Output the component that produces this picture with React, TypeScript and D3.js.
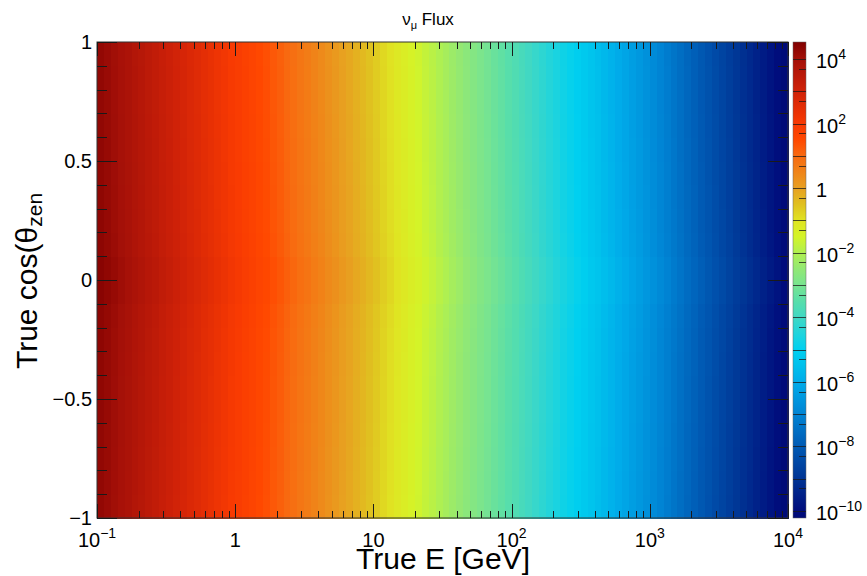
import React from "react";
import * as d3 from "d3";

// ---------- data ----------
const energyRange = [0.1, 1e4]; // GeV
const cosRange = [-1, 1];

// log10 of flux per energy bin (100 equal log-width bins from 0.1 to 1e4 GeV)
const spectrumLog10 = [
  4.40, 4.30, 4.19, 4.07, 3.96, 3.84, 3.73, 3.60, 3.49, 3.36,
  3.25, 3.12, 3.01, 2.88, 2.77, 2.64, 2.53, 2.40, 2.29, 2.16,
  2.05, 1.91, 1.80, 1.66, 1.55, 1.41, 1.30, 1.16, 1.05, 0.91,
  0.80, 0.66, 0.54, 0.40, 0.28, 0.14, 0.02, -0.12, -0.24, -0.38,
  -0.52, -0.68, -0.82, -0.98, -1.12, -1.28, -1.42, -1.58, -1.72, -1.88,
  -2.02, -2.18, -2.32, -2.48, -2.62, -2.78, -2.92, -3.08, -3.22, -3.38,
  -3.52, -3.68, -3.83, -3.99, -4.14, -4.30, -4.45, -4.61, -4.76, -4.92,
  -5.07, -5.24, -5.39, -5.56, -5.71, -5.88, -6.03, -6.20, -6.35, -6.52,
  -6.68, -6.86, -7.03, -7.21, -7.38, -7.56, -7.73, -7.91, -8.08, -8.26,
  -8.43, -8.61, -8.78, -8.96, -9.13, -9.31, -9.48, -9.66, -9.83, -10.01,
];

// log10 zenith modulation per cos bin (20 bins from -1 to 1)
const zenithLog10 = [
  -0.15, -0.14, -0.13, -0.12, -0.11, -0.10, -0.09, -0.08, -0.06, 0.0,
  0.0, -0.06, -0.08, -0.09, -0.10, -0.11, -0.12, -0.13, -0.14, -0.15,
];

const zLogRange = [-10.22, 4.53];

// palette stops (log10 value -> colour), ascending
const paletteLog = [
  -10.22, -10.0, -9.0, -8.0, -7.0, -6.0, -5.5, -5.0, -4.5, -4.0, -3.5, -3.0,
  -2.5, -2.0, -1.5, -1.0, -0.5, 0.0, 0.5, 1.0, 1.5, 2.0, 3.0, 4.0, 4.53,
];
const paletteColors = [
  "#000a76", "#000c7c", "#003494", "#005ab4", "#0084d4", "#00acea", "#00c0ec",
  "#00d0f0", "#20d4dc", "#40d8c4", "#58deaa", "#78e490", "#92e874", "#b0f050",
  "#d4f428", "#e0e422", "#e0c020", "#e8a020", "#f08418", "#f86a10", "#ff4800",
  "#f83a02", "#d02208", "#a41008", "#800000",
];

const xTickValues = [0.1, 1, 10, 100, 1000, 10000];
const xTickBase = ["10", "1", "10", "10", "10", "10"];
const xTickExp = ["−1", "", "", "2", "3", "4"];

const yTickValues = [-1, -0.5, 0, 0.5, 1];
const yTickLabels = ["−1", "−0.5", "0", "0.5", "1"];

const zTickExps = [4, 2, 0, -2, -4, -6, -8, -10];

// ---------- layout ----------
const W = 867;
const H = 576;
const L = 97;
const R = 788;
const T = 42;
const B = 518;
const CB_L = 793;
const CB_R = 806;
const FONT = "'Liberation Sans', Arial, Helvetica, sans-serif";

export default function App() {
  const x = d3.scaleLog().domain(energyRange).range([L, R]);
  const y = d3.scaleLinear().domain(cosRange).range([B, T]);
  const zY = d3.scaleLinear().domain(zLogRange).range([B, T]);
  const color = d3
    .scaleLinear<string>()
    .domain(paletteLog)
    .range(paletteColors)
    .interpolate(d3.interpolateRgb)
    .clamp(true);

  const nE = spectrumLog10.length;
  const nC = zenithLog10.length;
  const lMin = Math.log10(energyRange[0]);
  const lMax = Math.log10(energyRange[1]);
  const eEdge = (i: number) => Math.pow(10, lMin + ((lMax - lMin) * i) / nE);
  const cEdge = (j: number) => cosRange[0] + ((cosRange[1] - cosRange[0]) * j) / nC;

  const cells: React.ReactNode[] = [];
  for (let i = 0; i < nE; i++) {
    const x0 = x(eEdge(i));
    const x1 = x(eEdge(i + 1));
    for (let j = 0; j < nC; j++) {
      const y0 = y(cEdge(j + 1));
      const y1 = y(cEdge(j));
      const v = spectrumLog10[i] + zenithLog10[j];
      cells.push(
        <rect
          key={`${i}-${j}`}
          x={x0}
          y={y0}
          width={x1 - x0 + 0.5}
          height={y1 - y0 + 0.5}
          fill={color(v)}
        />
      );
    }
  }

  const xMinor: number[] = [];
  for (let d = -1; d < 4; d++) {
    for (let k = 2; k <= 9; k++) xMinor.push(k * Math.pow(10, d));
  }
  const yMinor: number[] = d3.range(-10, 11).map((k) => k / 10);

  const zMajor = d3.range(-10, 5);
  const zMinor = d3
    .range(-11, 5)
    .map((d) => d + Math.log10(5))
    .filter((v) => v > zLogRange[0] && v < zLogRange[1]);

  const tickStroke = "#1a1a1a";
  const span = zLogRange[1] - zLogRange[0];

  return (
    <svg
      width={W}
      height={H}
      style={{ position: "absolute", left: 0, top: 0, display: "block", background: "#fff" }}
      fontFamily={FONT}
    >
      <defs>
        <linearGradient id="pal" x1="0" y1="1" x2="0" y2="0">
          {paletteLog.map((v, k) => (
            <stop key={k} offset={(v - zLogRange[0]) / span} stopColor={paletteColors[k]} />
          ))}
        </linearGradient>
      </defs>
      <rect x={0} y={0} width={W} height={H} fill="#fff" />

      {/* title */}
      <text x={428} y={25} textAnchor="middle" fontSize={17} fill="#000">
        <tspan>ν</tspan>
        <tspan dy={4} fontSize={11}>μ</tspan>
        <tspan dy={-4}> Flux</tspan>
      </text>

      {/* heatmap */}
      <g shapeRendering="crispEdges">{cells}</g>

      {/* frame */}
      <rect x={L} y={T} width={R - L} height={B - T} fill="none" stroke="#333" strokeWidth={1} />

      {/* ticks */}
      <g stroke={tickStroke} strokeWidth={1}>
        {yMinor.map((v, k) => {
          const major = Math.abs(v * 2 - Math.round(v * 2)) < 1e-9;
          const len = major ? 20 : 10;
          const yy = Math.round(y(v)) + 0.5;
          return (
            <g key={k}>
              <line x1={L} x2={L + len} y1={yy} y2={yy} />
              <line x1={R - len} x2={R} y1={yy} y2={yy} />
            </g>
          );
        })}
        {xTickValues.map((v, k) => {
          const xx = Math.round(x(v)) + 0.5;
          return (
            <g key={"xM" + k}>
              <line x1={xx} x2={xx} y1={B} y2={B - 14} />
              <line x1={xx} x2={xx} y1={T} y2={T + 14} />
            </g>
          );
        })}
        {xMinor.map((v, k) => {
          const xx = Math.round(x(v)) + 0.5;
          return (
            <g key={"xm" + k}>
              <line x1={xx} x2={xx} y1={B} y2={B - 7} />
              <line x1={xx} x2={xx} y1={T} y2={T + 7} />
            </g>
          );
        })}
      </g>

      {/* x tick labels */}
      {xTickValues.map((v, k) => (
        <text key={"xl" + k} x={x(v)} y={547} textAnchor="middle" fontSize={20} fill="#000">
          <tspan>{xTickBase[k]}</tspan>
          {xTickExp[k] && (
            <tspan dy={-9} fontSize={14}>
              {xTickExp[k]}
            </tspan>
          )}
        </text>
      ))}

      {/* y tick labels */}
      {yTickValues.map((v, k) => (
        <text key={"yl" + k} x={92} y={y(v) + 7} textAnchor="end" fontSize={20} fill="#000">
          {yTickLabels[k]}
        </text>
      ))}

      {/* axis titles */}
      <text x={443} y={569} textAnchor="middle" fontSize={30} fill="#000">
        True E [GeV]
      </text>
      <text transform={`translate(37, 281) rotate(-90)`} textAnchor="middle" fontSize={30} fill="#000">
        <tspan>True cos(θ</tspan>
        <tspan dy={5} fontSize={21}>zen</tspan>
      </text>

      {/* colour bar */}
      <rect x={CB_L} y={T} width={CB_R - CB_L} height={B - T} fill="url(#pal)" stroke="#666" strokeWidth={0.5} />
      <g stroke={tickStroke} strokeWidth={1} strokeOpacity={0.75}>
        {zMajor.map((d) => {
          const yy = Math.round(zY(d)) + 0.5;
          return <line key={"zM" + d} x1={CB_L} x2={CB_R} y1={yy} y2={yy} />;
        })}
        {zMinor.map((d, k) => {
          const yy = Math.round(zY(d)) + 0.5;
          return <line key={"zm" + k} x1={CB_R - 7} x2={CB_R} y1={yy} y2={yy} />;
        })}
      </g>
      {zTickExps.map((e) => (
        <text key={"zl" + e} x={816} y={zY(e) + 9} fontSize={20} fill="#000">
          {e === 0 ? (
            <tspan>1</tspan>
          ) : (
            <>
              <tspan>10</tspan>
              <tspan dy={-9} fontSize={14}>
                {e < 0 ? "−" + Math.abs(e) : String(e)}
              </tspan>
            </>
          )}
        </text>
      ))}
    </svg>
  );
}
